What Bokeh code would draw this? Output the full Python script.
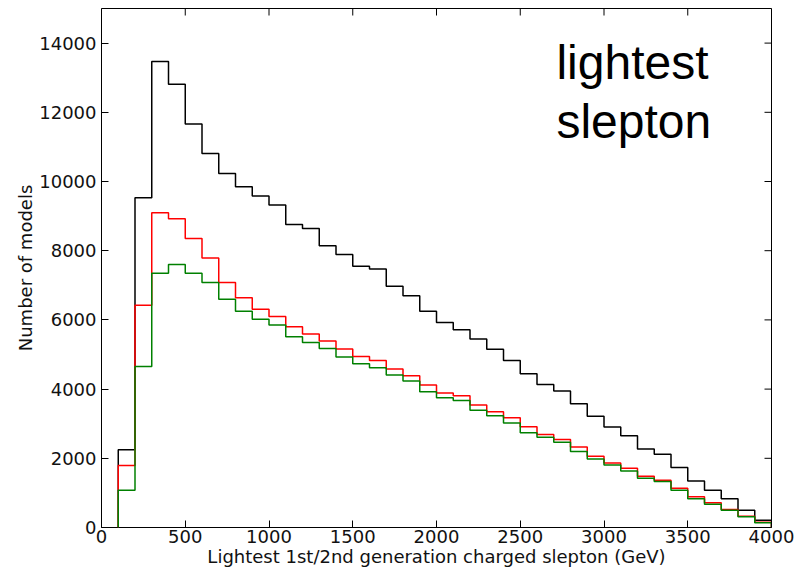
import numpy as np
from bokeh.plotting import figure
from bokeh.models import Range1d, FixedTicker, Label
from bokeh.embed import file_html
from bokeh.resources import INLINE

# histogram bin edges (GeV)
bin_lo = 100
bin_hi = 4000
bin_width = 100

# counts per bin (bins 100-200, 200-300, ..., 3900-4000)
counts_black = [2250, 9530, 13470, 12810, 11660, 10810, 10230, 9850, 9580, 9320,
                8760, 8640, 8140, 7890, 7550, 7470, 6970, 6700, 6250, 5925,
                5715, 5445, 5155, 4830, 4444, 4136, 3944, 3580, 3213, 2906,
                2655, 2270, 2116, 1732, 1347, 1078, 828, 500, 212]
counts_red = [1790, 6420, 9100, 8920, 8350, 7790, 7080, 6640, 6310, 6100,
              5800, 5590, 5387, 5156, 4944, 4829, 4579, 4387, 4117, 3886,
              3809, 3540, 3348, 3175, 2915, 2690, 2540, 2329, 2059, 1866,
              1712, 1481, 1366, 1135, 886, 712, 519, 327, 154]
counts_green = [1078, 4650, 7350, 7600, 7350, 7080, 6600, 6253, 6022, 5849,
                5515, 5349, 5176, 4925, 4733, 4618, 4406, 4233, 3925, 3752,
                3674, 3386, 3232, 3021, 2740, 2605, 2463, 2193, 1982, 1808,
                1635, 1424, 1328, 1078, 828, 673, 500, 308, 135]

x_min, x_max = 0, 4000
y_min, y_max = 0, 15000
x_ticks = [0, 500, 1000, 1500, 2000, 2500, 3000, 3500, 4000]
y_ticks = [0, 2000, 4000, 6000, 8000, 10000, 12000, 14000]

x_label = "Lightest 1st/2nd generation charged slepton (GeV)"
y_label = "Number of models"
title_lines = ["lightest", "slepton"]

edges = np.arange(bin_lo, bin_hi + bin_width, bin_width)

def step_outline(counts):
    xs = np.repeat(edges, 2)
    ys = np.concatenate([[0], np.repeat(counts, 2), [0]])
    return xs, ys

p = figure(width=795, height=571, output_backend="svg", toolbar_location=None,
           x_range=Range1d(x_min, x_max), y_range=Range1d(y_min, y_max),
           min_border_left=101, min_border_right=24, min_border_top=8,
           min_border_bottom=44)
p.grid.visible = False
p.outline_line_color = "black"
p.outline_line_width = 1
p.background_fill_color = "white"
p.border_fill_color = "white"

font = "DejaVu Sans"

def style_axis(ax):
    ax.axis_line_color = None
    ax.major_tick_in = 7
    ax.major_tick_out = 0
    ax.minor_tick_in = 0
    ax.minor_tick_out = 0
    ax.major_tick_line_color = "black"
    ax.major_label_text_font = font
    ax.major_label_text_font_size = "18px"
    ax.major_label_text_color = "#111111"
    ax.axis_label_text_font = font
    ax.axis_label_text_font_size = "18px"
    ax.axis_label_text_font_style = "normal"
    ax.axis_label_text_color = "#111111"

xa = p.xaxis[0]
ya = p.yaxis[0]
xa.ticker = FixedTicker(ticks=x_ticks)
ya.ticker = FixedTicker(ticks=y_ticks)
style_axis(xa)
style_axis(ya)
xa.axis_label = x_label
ya.axis_label = y_label
xa.major_label_standoff = 2
xa.axis_label_standoff = 0
ya.major_label_standoff = 5
ya.axis_label_standoff = 0

# mirrored inward ticks on top and right edges (clipped to the frame)
p.scatter(x=x_ticks, y=[y_max] * len(x_ticks), marker="dash", size=14,
          angle=np.pi / 2, line_color="black", line_width=1)
p.scatter(x=[x_max] * len(y_ticks), y=y_ticks, marker="dash", size=14,
          line_color="black", line_width=1)

for counts, color in [(counts_black, "black"), (counts_red, "#ff0000"), (counts_green, "#008000")]:
    xs, ys = step_outline(counts)
    p.line(xs, ys, line_color=color, line_width=1.5)

for i, t in enumerate(title_lines):
    p.add_layout(Label(x=2716, y=13450 - i * 1710, text=t,
                       text_font="Liberation Sans", text_font_size="48px",
                       text_color="black", text_baseline="alphabetic"))

open("out.html", "w").write(file_html(p, INLINE))
